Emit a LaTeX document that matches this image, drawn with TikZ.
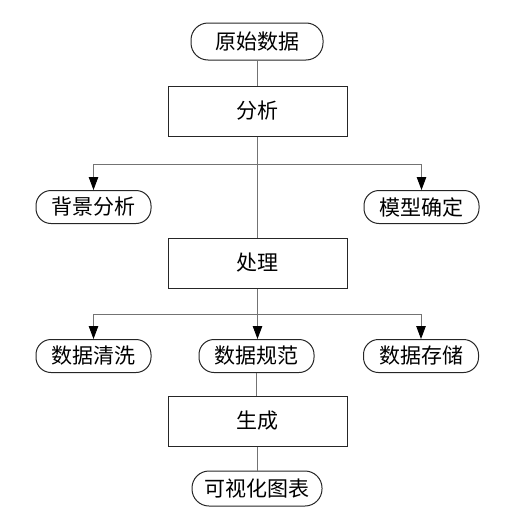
\documentclass[tikz,border=0pt]{standalone}
\usepackage{fontspec}
\newfontfamily\cjk{Noto Sans CJK SC}
\usetikzlibrary{arrows.meta}
\begin{document}
\begin{tikzpicture}[x=1pt,y=-1pt,
  font=\cjk\fontsize{21}{25}\selectfont,
  term/.style={draw=black!85, line width=1pt, rounded corners=15pt, minimum width=#1, minimum height=33pt, inner sep=0pt},
  term/.default=115pt,
  proc/.style={draw=black!85, line width=1pt, minimum width=179pt, minimum height=50pt, inner sep=0pt},
  link/.style={draw=black!55, line width=0.9pt},
  arr/.style={link, -{Triangle[length=13pt,width=9.5pt,fill=black,color=black]}}]
\useasboundingbox (0,0) rectangle (524,522);
\node[term=132pt, minimum height=37pt, rounded corners=17pt] (raw) at (257,41.5) {原始数据};
\node[proc] (ana) at (257.5,111) {分析};
\node[term] (bg) at (93.5,207) {背景分析};
\node[term] (model) at (421.5,207) {模型确定};
\node[proc] (proc) at (257.5,263) {处理};
\node[term] (clean) at (93.5,356) {数据清洗};
\node[term] (norm) at (256.5,356) {数据规范};
\node[term] (store) at (421,356) {数据存储};
\node[proc] (gen) at (257.5,421) {生成};
\node[term=130pt, minimum height=35pt, rounded corners=17pt] (vis) at (257,488.5) {可视化图表};
\coordinate (j1) at (257.5,164);
\coordinate (j2) at (257.5,314);
\draw[link] (raw.south) -- (raw.south |- ana.north);
\draw[link] (ana.south) -- (proc.north);
\draw[arr] (j1) -| (bg.north);
\draw[arr] (j1) -| (model.north);
\draw[link] (proc.south) -- (j2);
\draw[arr] (j2) -| (clean.north);
\draw[arr] (j2) -- (j2 |- norm.north);
\draw[arr] (j2) -| (store.north);
\draw[link] (norm.south) -- (norm.south |- gen.north);
\draw[link] (gen.south) -- (gen.south |- vis.north);
\end{tikzpicture}
\end{document}
